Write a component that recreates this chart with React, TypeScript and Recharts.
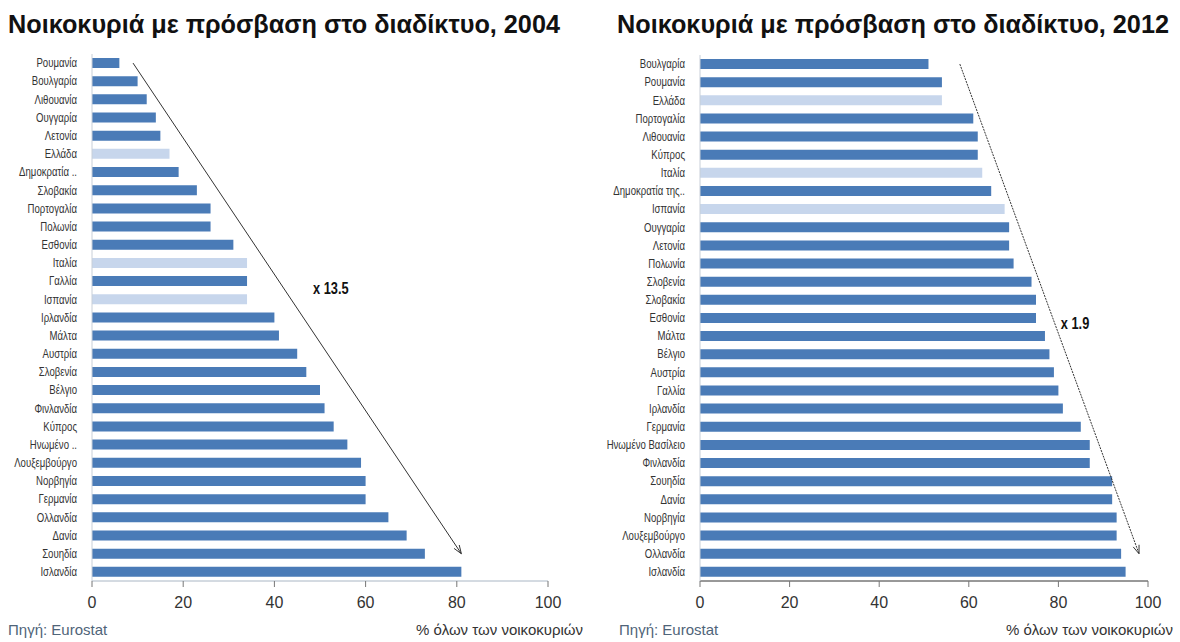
import React from 'react';
import {
  BarChart,
  Bar,
  Cell,
  XAxis,
  YAxis,
  ReferenceLine,
} from 'recharts';

const countries2004 = [
  'Ρουμανία', 'Βουλγαρία', 'Λιθουανία', 'Ουγγαρία', 'Λετονία', 'Ελλάδα',
  'Δημοκρατία ..', 'Σλοβακία', 'Πορτογαλία', 'Πολωνία', 'Εσθονία', 'Ιταλία',
  'Γαλλία', 'Ισπανία', 'Ιρλανδία', 'Μάλτα', 'Αυστρία', 'Σλοβενία', 'Βέλγιο',
  'Φινλανδία', 'Κύπρος', 'Ηνωμένο ..', 'Λουξεμβούργο', 'Νορβηγία', 'Γερμανία',
  'Ολλανδία', 'Δανία', 'Σουηδία', 'Ισλανδία',
];
const values2004 = [
  6, 10, 12, 14, 15, 17, 19, 23, 26, 26, 31, 34, 34, 34, 40, 41, 45, 47, 50,
  51, 53, 56, 59, 60, 60, 65, 69, 73, 81,
];

const countries2012 = [
  'Βουλγαρία', 'Ρουμανία', 'Ελλάδα', 'Πορτογαλία', 'Λιθουανία', 'Κύπρος',
  'Ιταλία', 'Δημοκρατία της..', 'Ισπανία', 'Ουγγαρία', 'Λετονία', 'Πολωνία',
  'Σλοβενία', 'Σλοβακία', 'Εσθονία', 'Μάλτα', 'Βέλγιο', 'Αυστρία', 'Γαλλία',
  'Ιρλανδία', 'Γερμανία', 'Ηνωμένο Βασίλειο', 'Φινλανδία', 'Σουηδία', 'Δανία',
  'Νορβηγία', 'Λουξεμβούργο', 'Ολλανδία', 'Ισλανδία',
];
const values2012 = [
  51, 54, 54, 61, 62, 62, 63, 65, 68, 69, 69, 70, 74, 75, 75, 77, 78, 79, 80,
  81, 85, 87, 87, 92, 92, 93, 93, 94, 95,
];

const highlighted = ['Ελλάδα', 'Ιταλία', 'Ισπανία'];
const xTicks = [0, 20, 40, 60, 80, 100];

const DARK = '#4a7bb7';
const LIGHT = '#c7d6ec';
const SANS = '"Liberation Sans", Arial, sans-serif';

// narrow look without a narrow font: squeeze horizontally
const NarrowTick = (props: any) => {
  const { x, y, payload } = props;
  return (
    <text
      transform={`translate(${x},${y}) scale(0.8,1)`}
      textAnchor="end"
      dy="0.35em"
      fontFamily={SANS}
      fontSize={12}
      fill="#333"
    >
      {payload.value}
    </text>
  );
};

const makeArrow = (label: string, t: number, dx: number, dash?: string) => (props: any) => {
  const { x1, y1, x2, y2 } = props;
  const ang = Math.atan2(y2 - y1, x2 - x1);
  const len = 9;
  const w = 0.35;
  const a1x = x2 - len * Math.cos(ang - w);
  const a1y = y2 - len * Math.sin(ang - w);
  const a2x = x2 - len * Math.cos(ang + w);
  const a2y = y2 - len * Math.sin(ang + w);
  const mx = x1 + (x2 - x1) * t;
  const my = y1 + (y2 - y1) * t;
  return (
    <g>
      <line x1={x1} y1={y1} x2={x2} y2={y2} stroke="#333" strokeWidth={1} strokeDasharray={dash} />
      <polyline points={`${a1x},${a1y} ${x2},${y2} ${a2x},${a2y}`} fill="none" stroke="#333" strokeWidth={1} />
      <text
        transform={`translate(${mx + dx},${my}) scale(0.8,1)`}
        dy="0.35em"
        fontFamily={SANS}
        fontWeight="bold"
        fontSize={16}
        fill="#111"
      >
        {label}
      </text>
    </g>
  );
};

type PanelProps = {
  title: string;
  titleX: number;
  names: string[];
  values: number[];
  yWidth: number;
  marginRight: number;
  marginTop: number;
  arrowFrom: { x: number; y: string };
  arrowTo: { x: number; y: string };
  arrowLabel: string;
  labelT: number;
  labelDx: number;
  dash?: string;
  axisColor: string;
  sourceX: number;
};

const Panel = (p: PanelProps) => {
  const data = p.names.map((name, i) => ({ name, value: p.values[i] }));
  return (
    <div style={{ position: 'relative', width: 590, height: 642 }}>
      <BarChart
        width={590}
        height={642}
        data={data}
        layout="vertical"
        margin={{ top: p.marginTop, right: p.marginRight, bottom: 30, left: 0 }}
        barCategoryGap={0}
      >
        <XAxis
          type="number"
          domain={[0, 100]}
          ticks={xTicks}
          height={31}
          tickSize={6}
          tickMargin={10}
          axisLine={{ stroke: p.axisColor }}
          tickLine={{ stroke: '#777' }}
          tick={{ fontFamily: SANS, fontSize: 16, fill: '#333' }}
        />
        <YAxis
          type="category"
          dataKey="name"
          width={p.yWidth}
          interval={0}
          tickLine={false}
          tickMargin={9}
          axisLine={{ stroke: '#c8cfd8' }}
          tick={<NarrowTick />}
        />
        <Bar dataKey="value" barSize={10} isAnimationActive={false}>
          {data.map((d) => (
            <Cell key={d.name} fill={highlighted.includes(d.name) ? LIGHT : DARK} />
          ))}
        </Bar>
        <ReferenceLine
          segment={[p.arrowFrom, p.arrowTo]}
          ifOverflow="visible"
          shape={makeArrow(p.arrowLabel, p.labelT, p.labelDx, p.dash)}
        />
      </BarChart>
      <svg width={590} height={50} style={{ position: 'absolute', left: 0, top: 0, pointerEvents: 'none' }}>
        <text
          x={p.titleX}
          y={33}
          textLength={552}
          lengthAdjust="spacingAndGlyphs"
          fontFamily={SANS}
          fontWeight="bold"
          fontSize={25}
          fill="#111"
        >
          {p.title}
        </text>
      </svg>
      <div
        style={{
          position: 'absolute',
          left: p.sourceX,
          top: 621,
          fontFamily: SANS,
          fontSize: 15,
          color: '#4f6479',
          whiteSpace: 'nowrap',
        }}
      >
        Πηγή: Eurostat
      </div>
      <div
        style={{
          position: 'absolute',
          right: 7,
          top: 621,
          fontFamily: SANS,
          fontSize: 15,
          color: '#333',
          whiteSpace: 'nowrap',
        }}
      >
        % όλων των νοικοκυριών
      </div>
    </div>
  );
};

export default function App() {
  return (
    <div
      style={{
        position: 'absolute',
        left: 0,
        top: 0,
        width: 1180,
        height: 642,
        background: '#fff',
        display: 'flex',
      }}
    >
      <Panel
        title="Νοικοκυριά με πρόσβαση στο διαδίκτυο, 2004"
        titleX={8}
        names={countries2004}
        values={values2004}
        yWidth={92}
        marginRight={42}
        marginTop={54}
        arrowFrom={{ x: 9, y: 'Ρουμανία' }}
        arrowTo={{ x: 81, y: 'Σουηδία' }}
        arrowLabel="x 13.5"
        labelT={0.46}
        labelDx={29}
        axisColor="#a9b6c4"
        sourceX={8}
      />
      <Panel
        title="Νοικοκυριά με πρόσβαση στο διαδίκτυο, 2012"
        titleX={27}
        names={countries2012}
        values={values2012}
        yWidth={110}
        marginRight={32}
        marginTop={55}
        arrowFrom={{ x: 58, y: 'Βουλγαρία' }}
        arrowTo={{ x: 98, y: 'Ολλανδία' }}
        arrowLabel="x 1.9"
        labelT={0.53}
        labelDx={6}
        dash="2 1"
        axisColor="#333"
        sourceX={29}
      />
    </div>
  );
}
